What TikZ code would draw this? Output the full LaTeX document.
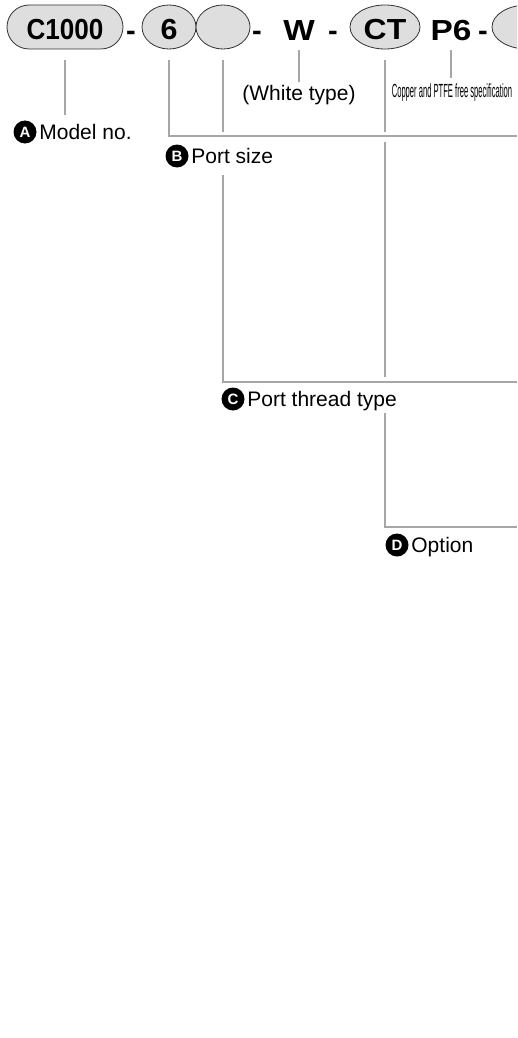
\documentclass[tikz,border=0pt]{standalone}
\usepackage{fontspec}
\setmainfont{Liberation Sans}
\usepackage{graphicx}
\usepackage{xcolor}
\usetikzlibrary{positioning,shapes.geometric}
\definecolor{capfill}{HTML}{DEDEDE}
\definecolor{leadgray}{HTML}{A6A6A6}
\newcommand{\stretchx}[2]{\scalebox{#1}[1]{#2}}

\begin{document}
\begin{tikzpicture}[
    x=1pt,y=-1pt,
    codepart/.style={draw=black!80,fill=capfill,line width=0.8pt,inner sep=0pt,
                     font=\fontsize{29}{30}\selectfont\bfseries,text height=25pt,text depth=0pt},
    pill/.style={codepart,rectangle,rounded corners=22pt,minimum width=116pt,minimum height=44pt},
    oval/.style={codepart,ellipse,minimum width=#1,minimum height=44pt},
    codechar/.style={anchor=base,inner sep=0pt,font=\fontsize{29}{30}\selectfont\bfseries},
    badge/.style={circle,fill=black,text=white,minimum size=23pt,inner sep=0pt,
                  font=\fontsize{15}{15}\selectfont\bfseries},
    lbl/.style={inner sep=1.5pt,font=\fontsize{21}{24}\selectfont,text height=15pt,text depth=0pt},
    leader/.style={draw=leadgray,line width=2pt}
]
\useasboundingbox (0,0) rectangle (517,1038);
\clip (0,0) rectangle (517,1038);

\node[pill]        (model) at (65,27)  {\stretchx{0.9}{C1000}};
\node[codechar]    (dashA) at (131,41) {-};
\node[oval=54pt]   (port6) at (169,27) {\stretchx{1.05}{6}};
\node[oval=54pt]   (blank) at (223,27) {};
\node[codechar]    (dashB) at (257,41) {-};
\node[codechar]    (wtype) at (299,41) {\stretchx{1.15}{W}};
\node[codechar]    (dashC) at (333,41) {-};
\node[oval=70pt]   (ct)    at (385,27) {\stretchx{1.1}{CT}};
\node[codechar]    (pfree) at (451,41) {\stretchx{1.15}{P6}};
\node[codechar]    (dashD) at (483,41) {-};
\node[oval=70pt]   (opt)   at (527,27) {};

\node[lbl] (white) at (299,93) {(White type)};
\node[inner sep=0pt,font=\fontsize{19}{20}\selectfont] (cufree) at (452,93)
    {\stretchx{0.4}{Copper and PTFE free specification}};

\node[badge] (bA) at (25,132) {A};
\node[lbl,right=1pt of bA] (lA) {Model no.};
\node[badge] (bB) at (177,156) {B};
\node[lbl,right=1pt of bB] (lB) {Port size};
\node[badge] (bC) at (233,399) {C};
\node[lbl,right=1pt of bC] (lC) {Port thread type};
\node[badge] (bD) at (397,545) {D};
\node[lbl,right=1pt of bD] (lD) {Option};

\coordinate (edgeB) at (517,136);
\coordinate (edgeC) at (517,382);
\coordinate (edgeD) at (517,527);

\draw[leader] ([yshift=-9pt]wtype.south) -- ([yshift=2pt]white.north);
\draw[leader] ([yshift=-9pt]pfree.south) -- (pfree.south |- 0,78);
\draw[leader] ([yshift=-11pt]model.south) -- (model.south |- 0,115);
\draw[leader] ([yshift=-11pt]port6.south) -- (port6.south |- edgeB) -- (edgeB);
\draw[leader] ([yshift=-11pt]blank.south) -- (blank.south |- 0,132);
\draw[leader] (blank.south |- 0,175) -- (blank.south |- edgeC) -- (edgeC);
\draw[leader] ([yshift=-11pt]ct.south) -- (ct.south |- 0,132);
\draw[leader] (ct.south |- 0,142) -- (ct.south |- 0,377);
\draw[leader] (ct.south |- 0,413) -- (ct.south |- edgeD) -- (edgeD);
\end{tikzpicture}
\end{document}
